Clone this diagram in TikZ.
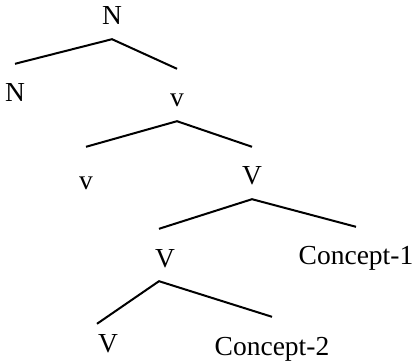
\documentclass[tikz,border=0pt]{standalone}
\usepackage{fontspec}
\setmainfont{Liberation Serif}
\usepackage{tikz}
\usetikzlibrary{positioning}
\tikzset{
    word/.style = {anchor=base, font=\fontsize{27.5}{30}\selectfont, text height=24pt, text depth=0pt, inner xsep=2pt, inner ysep=14pt},
    branch/.style = {draw, line width=2pt}
}

\begin{document}
\begin{tikzpicture}[x=1pt, y=1pt]
        \useasboundingbox (0,0) rectangle (418,362);

        % Labels
        \node [word] (top) at (112,337) {N};
        \node [word] (nleft) at (15,260) {N};
        \node [word] (vone) at (177,255) {v};
        \node [word] (vtwo) at (86,172) {v};
        \node [word] (Vone) at (252,177) {V};
        \node [word] (Vtwo) at (165,95) {V};
        \node [word] (conone) at (356,97) {Concept-1};
        \node [word] (Vthree) at (108,10) {V};
        \node [word] (contwo) at (272,7) {Concept-2};

        % Branches
        \path [branch] (nleft.north) -- (top.south) -- (vone.north);
        \path [branch] ([yshift=5pt]vtwo.north) -- (vone.south) -- (Vone.north);
        \path [branch] ([xshift=-6pt]Vtwo.north) -- (Vone.south) -- (conone.north);
        \path [branch] ([xshift=-11pt, yshift=-10pt]Vthree.north) -- ([xshift=-6pt]Vtwo.south) -- (contwo.north);

    \end{tikzpicture}
\end{document}
